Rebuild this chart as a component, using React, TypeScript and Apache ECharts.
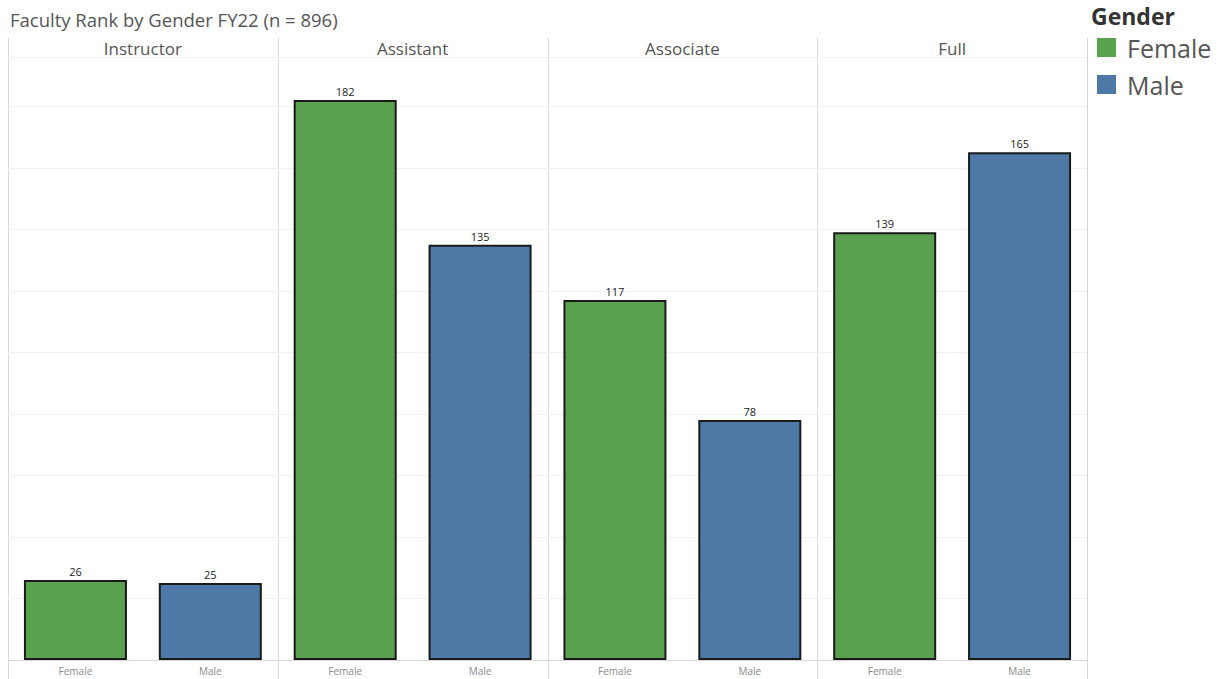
import React, { useEffect, useRef } from "react";
import * as echarts from "echarts";

const ranks = ["Instructor", "Assistant", "Associate", "Full"];
const genders = ["Female", "Male"];
const femaleValues = [26, 182, 117, 139];
const maleValues = [25, 135, 78, 165];
const colors = { Female: "#59A14F", Male: "#4E79A7" };

const FONT = "'Open Sans', 'Noto Sans', sans-serif";

export default function App() {
  const ref = useRef<HTMLDivElement>(null);
  useEffect(() => {
    if (!ref.current) return;
    const chart = echarts.init(ref.current, null, { renderer: "svg" });
    const left0 = 8;
    const right0 = 1087;
    const pw = (right0 - left0) / ranks.length;
    const top = 57;
    const bottom = 660;
    const grids = ranks.map((_, i) => ({
      left: left0 + i * pw,
      width: pw,
      top,
      height: bottom - top,
      containLabel: false,
    }));
    const xAxes = ranks.map((_, i) => ({
      type: "category",
      gridIndex: i,
      data: genders,
      axisTick: { show: false },
      axisLine: { show: true, lineStyle: { color: "#d9d9d9", width: 1 } },
      axisLabel: { fontSize: 10, color: "#8a8a8a", margin: 6, fontFamily: FONT },
      splitLine: { show: false },
    }));
    const yAxes = ranks.map((_, i) => ({
      type: "value",
      gridIndex: i,
      min: 0,
      max: 196,
      interval: 20,
      axisLabel: { show: false },
      axisLine: { show: false },
      axisTick: { show: false },
      splitLine: { show: true, lineStyle: { color: "#f1f1f1", width: 1 } },
    }));
    const series: any[] = [];
    ranks.forEach((_, i) => {
      series.push({
        name: "Female",
        type: "bar",
        xAxisIndex: i,
        yAxisIndex: i,
        stack: "s" + i,
        barWidth: 103,
        data: [femaleValues[i], "-"],
        itemStyle: { color: colors.Female, borderColor: "#1a1a1a", borderWidth: 2 },
        label: { show: true, position: "top", distance: 3, fontSize: 11, color: "#222", fontFamily: FONT },
      });
      series.push({
        name: "Male",
        type: "bar",
        xAxisIndex: i,
        yAxisIndex: i,
        stack: "s" + i,
        barWidth: 103,
        data: ["-", maleValues[i]],
        itemStyle: { color: colors.Male, borderColor: "#1a1a1a", borderWidth: 2 },
        label: { show: true, position: "top", distance: 3, fontSize: 11, color: "#222", fontFamily: FONT },
      });
    });
    const graphics: any[] = [];
    for (let i = 0; i <= ranks.length; i++) {
      const x = Math.round(left0 + i * pw) + 0.5;
      graphics.push({
        type: "line",
        shape: { x1: x, y1: 38, x2: x, y2: 679 },
        style: { stroke: "#d9d9d9", lineWidth: 1 },
        silent: true,
      });
    }
    graphics.push({
      type: "line",
      shape: { x1: left0, y1: top + 0.5, x2: right0, y2: top + 0.5 },
      style: { stroke: "#d9d9d9", lineWidth: 1 },
      silent: true,
    });
    ranks.forEach((r, i) => {
      graphics.push({
        type: "text",
        x: left0 + i * pw + pw / 2,
        y: 48,
        style: {
          text: r,
          fontSize: 17,
          fill: "#555",
          fontFamily: FONT,
          align: "center",
          verticalAlign: "middle",
        },
      });
    });
    graphics.push({
      type: "text",
      x: 1091,
      y: 16,
      style: {
        text: "Gender",
        fontSize: 23,
        fontWeight: "bold",
        fill: "#333",
        fontFamily: FONT,
        verticalAlign: "middle",
      },
    });
    chart.setOption({
      animation: false,
      backgroundColor: "#fff",
      title: {
        text: "Faculty Rank by Gender FY22 (n = 896)",
        left: 5,
        top: 5,
        textStyle: { fontSize: 18.5, fontWeight: "normal", color: "#555", fontFamily: FONT },
      },
      legend: {
        data: ["Female", "Male"],
        orient: "vertical",
        left: 1097,
        top: 35,
        padding: 0,
        icon: "rect",
        itemWidth: 19,
        itemHeight: 19,
        itemGap: 12,
        selectedMode: false,
        itemStyle: { borderWidth: 0 },
        textStyle: { fontSize: 25, color: "#555", fontFamily: FONT, padding: [2, 0, 0, 6] },
      },
      grid: grids,
      xAxis: xAxes,
      yAxis: yAxes,
      series,
      graphic: graphics,
    });
    return () => chart.dispose();
  }, []);
  return (
    <div
      ref={ref}
      style={{ position: "fixed", left: 0, top: 0, width: 1228, height: 679 }}
    />
  );
}
